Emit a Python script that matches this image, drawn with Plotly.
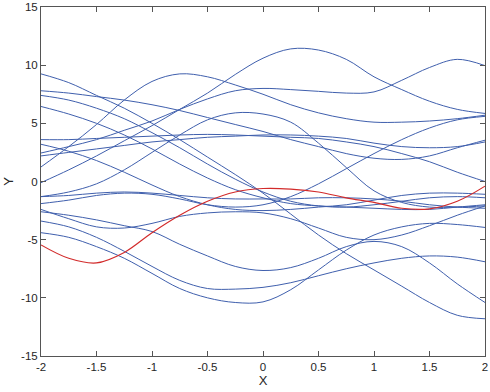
import plotly.graph_objects as go

x_vals = [-2, -1.75, -1.5, -1.25, -1, -0.75, -0.5, -0.25, 0, 0.25, 0.5, 0.75, 1, 1.25, 1.5, 1.75, 2]

c01 = [-0.1, 1.0, 2.2, 3.5, 4.8, 6.2, 7.6, 9.2, 10.6, 11.4, 11.3, 10.5, 9.0, 7.9, 6.9, 6.2, 5.85]
c02 = [1.25, 3.0, 4.9, 7.0, 8.6, 9.25, 9.0, 8.3, 7.5, 6.6, 5.9, 5.4, 5.1, 5.1, 5.2, 5.4, 5.7]
c03 = [2.45, 3.0, 3.6, 4.4, 5.2, 6.2, 7.1, 7.8, 8.0, 7.9, 7.75, 7.6, 7.7, 8.7, 9.8, 10.5, 9.96]
c04 = [9.25, 8.5, 7.4, 6.3, 5.0, 3.6, 2.1, 0.6, -1.0, -2.8, -4.6, -6.2, -7.6, -9.0, -10.4, -11.5, -11.8]
c05 = [-2.6, -2.9, -3.3, -3.8, -4.3, -5.4, -6.4, -7.3, -7.65, -7.4, -6.6, -5.6, -5.15, -5.6, -7.0, -8.8, -10.4]
c06 = [-4.4, -4.8, -5.6, -6.6, -7.9, -9.2, -10.0, -10.4, -10.35, -9.3, -7.6, -5.9, -4.6, -3.9, -3.6, -3.7, -3.95]
c07 = [-3.4, -3.9, -4.8, -6.0, -7.3, -8.5, -9.2, -9.25, -9.1, -8.7, -8.1, -7.5, -7.0, -6.6, -6.4, -6.5, -6.9]
c08 = [-1.3, -0.9, -0.2, 1.0, 2.5, 4.0, 5.3, 5.9, 5.8, 5.1, 3.3, 1.2, -0.8, -1.8, -2.2, -2.2, -2.1]
c09 = [3.6, 3.6, 3.7, 3.8, 3.9, 4.0, 4.05, 4.0, 3.9, 3.8, 3.7, 3.4, 3.0, 2.4, 1.7, 0.8, 0.0]
c10 = [7.8, 7.6, 7.3, 7.0, 6.6, 6.1, 5.5, 4.9, 4.3, 3.6, 3.0, 2.4, 2.0, 1.9, 2.2, 2.9, 3.55]
c11 = [7.4, 7.0, 6.3, 5.4, 4.2, 2.9, 1.5, 0.2, -0.9, -1.7, -2.1, -2.2, -2.0, -1.7, -1.4, -1.3, -1.4]
c12 = [6.45, 5.8, 5.0, 4.0, 2.8, 1.5, 0.3, -0.7, -1.4, -1.9, -2.1, -2.2, -2.3, -2.4, -2.4, -2.2, -2.0]
c13 = [3.2, 2.6, 1.8, 0.8, -0.3, -1.3, -2.0, -2.4, -2.5, -2.4, -2.2, -2.0, -1.6, -1.2, -1.0, -1.0, -1.1]
c14 = [2.2, 2.5, 2.8, 3.1, 3.4, 3.6, 3.8, 3.9, 4.0, 4.0, 3.9, 3.7, 3.3, 3.0, 2.9, 3.0, 3.4]
c15 = [-1.9, -1.6, -1.2, -1.0, -1.1, -1.5, -2.0, -2.2, -2.0, -1.3, -0.2, 1.1, 2.4, 3.6, 4.6, 5.3, 5.6]
c16 = [-2.4, -3.2, -3.9, -4.0, -3.6, -3.0, -2.7, -2.6, -2.7, -3.2, -4.0, -4.8, -5.0, -4.6, -3.8, -2.9, -2.1]
c17 = [-1.3, -1.2, -1.0, -0.9, -1.0, -1.2, -1.4, -1.5, -1.5, -1.5, -1.4, -1.4, -1.5, -1.7, -2.0, -2.2, -2.3]
blue_series = [c01, c02, c03, c04, c05, c06, c07, c08, c09, c10, c11, c12, c13, c14, c15, c16, c17]

red_series = [-5.45, -6.6, -7.0, -6.1, -4.4, -2.9, -1.7, -0.9, -0.6, -0.65, -0.9, -1.4, -1.8, -2.3, -2.35, -1.7, -0.4]

x_ticks = [-2, -1.5, -1, -0.5, 0, 0.5, 1, 1.5, 2]
x_tick_text = ["-2", "-1.5", "-1", "-0.5", "0", "0.5", "1", "1.5", "2"]
y_ticks = [-15, -10, -5, 0, 5, 10, 15]
y_tick_text = ["-15", "-10", "-5", "0", "5", "10", "15"]

BLUE = "#3f5fad"
RED = "#d22b2b"

fig = go.Figure()
for s in blue_series:
    fig.add_trace(go.Scatter(x=x_vals, y=s, mode="lines",
                             line=dict(color=BLUE, width=1, shape="spline", smoothing=1.0),
                             showlegend=False, hoverinfo="skip"))
fig.add_trace(go.Scatter(x=x_vals, y=red_series, mode="lines",
                         line=dict(color=RED, width=1.2, shape="spline", smoothing=1.0),
                         showlegend=False, hoverinfo="skip"))

axis_common = dict(showgrid=False, zeroline=False, showline=True, linecolor="#555555",
                   linewidth=1, mirror="ticks", ticks="inside", ticklen=5, tickcolor="#555555",
                   ticklabeloverflow="allow", automargin=False,
                   tickfont=dict(family="Liberation Sans, Arial, sans-serif", size=11.5, color="#262626"))

fig.update_layout(
    width=490, height=392,
    margin=dict(l=41, r=5, t=7, b=36),
    paper_bgcolor="white", plot_bgcolor="white",
    xaxis=dict(range=[-2, 2], tickmode="array", tickvals=x_ticks, ticktext=x_tick_text,
               title=dict(text="X", standoff=2,
                          font=dict(family="Liberation Sans, Arial, sans-serif", size=13, color="#262626")),
               **axis_common),
    yaxis=dict(range=[-15, 15], tickmode="array", tickvals=y_ticks, ticktext=y_tick_text,
               title=dict(text="Y", standoff=4,
                          font=dict(family="Liberation Sans, Arial, sans-serif", size=13, color="#262626")),
               **axis_common),
)

fig.write_html("out.html")
